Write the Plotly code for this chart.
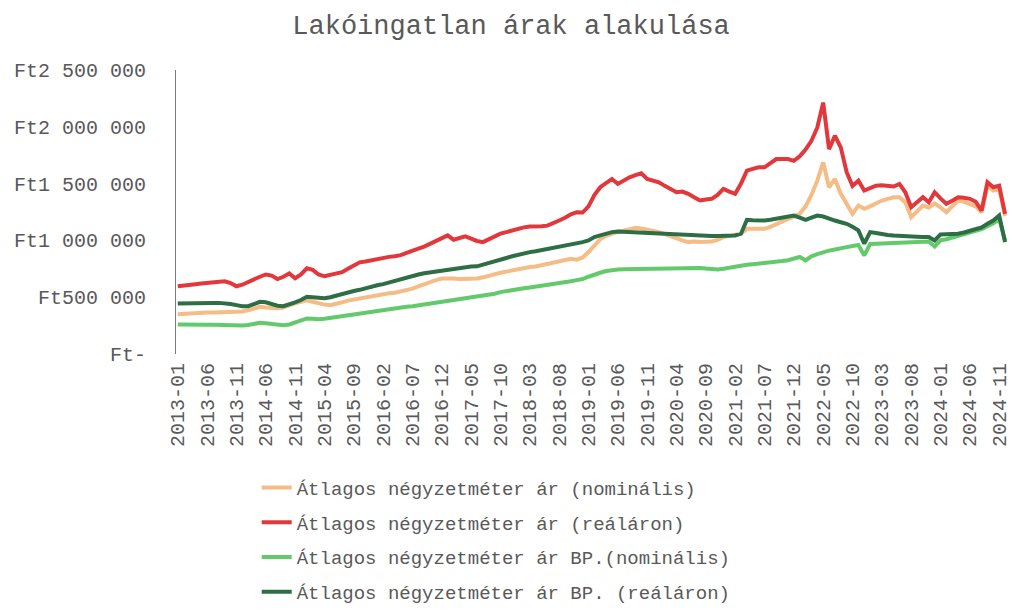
import pandas as pd
import plotly.graph_objects as go

# Monthly categories (two months absent in the source between 2013-11 and 2014-06)
months = [p.strftime("%Y-%m") for p in pd.period_range("2013-01", "2024-12", freq="M")]
months = [m for m in months if m not in ("2013-12", "2014-01")]

# values in thousand Ft
nominal = [351, 355, 358, 360, 362, 365, 366, 368, 370, 372,
           371, 375, 385, 400, 415, 410, 405, 403, 410, 430,
           445, 460, 473, 460, 445, 435, 430, 440, 455, 470,
           480, 490, 500, 510, 520, 532, 535, 540, 550, 561,
           575, 595, 615, 635, 650, 664, 668, 665, 660, 662,
           665, 664, 675, 690, 705, 715, 725, 737, 745, 755,
           765, 770, 781, 790, 800, 815, 830, 839, 830, 850,
           897, 960, 1010, 1040, 1059, 1075, 1085, 1100, 1111, 1105,
           1095, 1080, 1073, 1055, 1035, 1015, 1000, 985, 990, 985,
           985, 990, 1005, 1029, 1040, 1050, 1059, 1102, 1100, 1105,
           1102, 1120, 1146, 1165, 1190, 1210, 1234, 1300, 1400, 1526,
           1687, 1468, 1541, 1410, 1320, 1234, 1307, 1278, 1300, 1330,
           1351, 1365, 1380, 1380, 1336, 1204, 1260, 1307, 1290, 1325,
           1290, 1248, 1300, 1351, 1340, 1322, 1300, 1248, 1480, 1440,
           1455, 1215]

real = [596, 605, 612, 615, 620, 625, 622, 630, 640, 625,
        596, 610, 635, 660, 680, 700, 690, 660, 680, 710,
        667, 700, 754, 740, 700, 684, 695, 705, 720, 750,
        780, 807, 815, 825, 840, 850, 855, 860, 870, 890,
        905, 927, 945, 970, 1000, 1020, 1044, 1006, 1020, 1035,
        1015, 995, 985, 1010, 1040, 1060, 1073, 1090, 1105, 1115,
        1123, 1120, 1125, 1130, 1150, 1175, 1200, 1230, 1248, 1245,
        1300, 1400, 1468, 1500, 1541, 1497, 1530, 1555, 1575, 1591,
        1541, 1525, 1512, 1480, 1450, 1424, 1430, 1410, 1380, 1351,
        1360, 1366, 1400, 1453, 1430, 1410, 1500, 1614, 1630, 1643,
        1643, 1680, 1716, 1716, 1716, 1700, 1740, 1800, 1877, 1994,
        2213, 1804, 1921, 1819, 1600, 1480, 1526, 1439, 1460, 1482,
        1485, 1478, 1474, 1497, 1424, 1292, 1340, 1380, 1336, 1424,
        1370, 1322, 1350, 1380, 1375, 1366, 1340, 1263, 1512, 1468,
        1482, 1234]

bp_nominal = [260, 258, 257, 258, 256, 257, 258, 256, 255, 254,
              254, 250, 255, 265, 275, 270, 262, 255, 254, 260,
              275, 290, 313, 310, 305, 310, 318, 325, 332, 340,
              345, 352, 360, 368, 376, 385, 392, 398, 405, 415,
              420, 428, 436, 445, 452, 459, 465, 472, 480, 490,
              498, 503, 510, 520, 530, 545, 555, 561, 570, 578,
              585, 592, 600, 605, 612, 620, 630, 640, 650, 660,
              680, 700, 715, 730, 740, 743, 745, 746, 748, 749,
              750, 751, 751, 752, 754, 756, 758, 760, 760, 758,
              752, 746, 743, 750, 760, 770, 781, 785, 790, 795,
              795, 800, 810, 818, 825, 840, 854, 825, 860, 880,
              897, 910, 920, 935, 941, 950, 960, 868, 968, 970,
              972, 974, 976, 978, 980, 982, 984, 986, 990, 947,
              1000, 1010, 1025, 1040, 1055, 1070, 1085, 1100, 1125, 1150,
              1190, 1000]

bp_real = [445, 447, 448, 446, 447, 448, 449, 450, 448, 440,
           430, 421, 421, 440, 459, 455, 440, 425, 421, 435,
           455, 475, 503, 500, 495, 491, 500, 515, 530, 545,
           555, 565, 580, 595, 605, 615, 630, 645, 660, 678,
           690, 700, 710, 718, 725, 731, 740, 750, 758, 765,
           770, 772, 785, 800, 815, 830, 845, 860, 875, 890,
           897, 905, 915, 925, 935, 941, 950, 962, 975, 985,
           1000, 1030, 1044, 1060, 1073, 1078, 1075, 1072, 1070, 1067,
           1065, 1063, 1060, 1058, 1055, 1053, 1050, 1048, 1045, 1042,
           1040, 1038, 1038, 1040, 1042, 1044, 1059, 1181, 1178, 1176,
           1175, 1182, 1190, 1200, 1210, 1219, 1200, 1181, 1200, 1219,
           1210, 1190, 1175, 1160, 1146, 1120, 1088, 971, 1073, 1065,
           1053, 1048, 1043, 1038, 1035, 1033, 1032, 1030, 1029, 1000,
           1053, 1055, 1057, 1059, 1070, 1085, 1102, 1115, 1146, 1175,
           1219, 985]

series_names = ["Átlagos négyzetméter ár (nominális)",
                "Átlagos négyzetméter ár (reáláron)",
                "Átlagos négyzetméter ár BP.(nominális)",
                "Átlagos négyzetméter ár BP. (reáláron)"]
series_values = [nominal, real, bp_nominal, bp_real]
series_colors = ["#F6BC86", "#E2373B", "#63CA6C", "#2E6E45"]

y_tickvals = [0, 500000, 1000000, 1500000, 2000000, 2500000]
y_ticktext = ["Ft-", "Ft500 000", "Ft1 000 000", "Ft1 500 000", "Ft2 000 000", "Ft2 500 000"]

FONT = "Liberation Mono, Courier New, monospace"
GREY = "#595959"

fig = go.Figure()
for k, (name, vals, col) in enumerate(zip(series_names, series_values, series_colors)):
    fig.add_trace(go.Scatter(
        x=months, y=[v * 1000 for v in vals], mode="lines", name=name,
        line=dict(color=col, width=4), legendgroup=f"g{k}",
    ))

fig.update_layout(
    width=1012, height=610,
    margin=dict(l=176, r=4, t=70, b=256, autoexpand=False),
    paper_bgcolor="white", plot_bgcolor="white",
    title=dict(text="Lakóingatlan árak alakulása", x=0.505, xanchor="center",
               y=0.96, yanchor="middle", font=dict(family=FONT, size=27, color=GREY),
               automargin=False),
    font=dict(family=FONT, color=GREY),
    showlegend=True,
    legend=dict(orientation="v", x=0.097, xanchor="left", y=-0.404, yanchor="top",
                font=dict(family=FONT, size=19, color=GREY),
                tracegroupgap=7, traceorder="grouped", bgcolor="rgba(0,0,0,0)"),
    xaxis=dict(type="category", tickmode="array", tickvals=months[::5], ticktext=months[::5],
               tickangle=-90, tickfont=dict(family=FONT, size=20, color=GREY),
               range=[-0.3, 141.5], showgrid=False, showline=False, zeroline=False,
               ticks="", ticklabelstandoff=4, automargin=False),
    yaxis=dict(range=[0, 2500000], tickmode="array", tickvals=y_tickvals, ticktext=y_ticktext,
               tickfont=dict(family=FONT, size=20, color=GREY), showgrid=False,
               showline=True, linecolor="#7a7a7a", linewidth=1, zeroline=False,
               ticks="", ticklabelstandoff=25, automargin=False),
)

fig.write_html("out.html", config={"displayModeBar": False},
               post_script="document.body.style.margin='0';document.body.style.overflow='hidden';")
